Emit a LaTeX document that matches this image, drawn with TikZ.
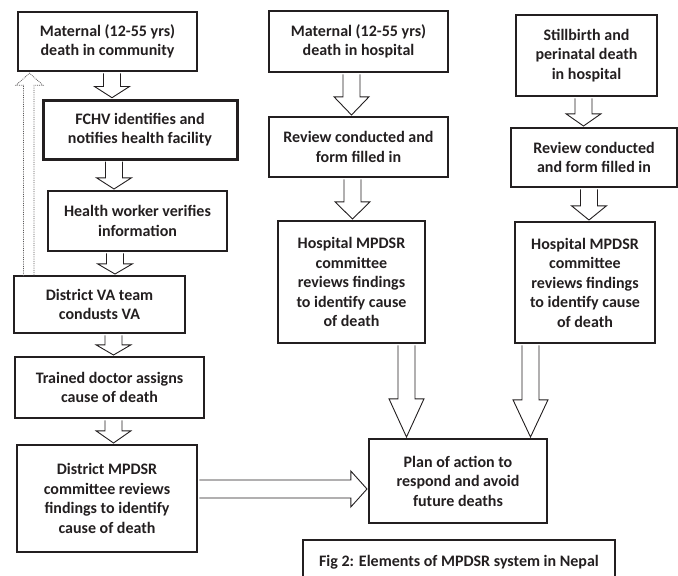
\documentclass[tikz,border=0pt]{standalone}
\usepackage{fontspec}
\setmainfont{Carlito}
\usetikzlibrary{calc}
\definecolor{ink}{HTML}{231F20}
% hollow block arrow pointing down: x, from node, to node, head length
\newcommand\fatdown[4]{%
\draw[fat] let \p1=(#2.south), \p2=(#3.north) in
 (#1pt-8.5pt,\y1-1.2pt) -- (#1pt-8.5pt,\y2+#4pt) -- (#1pt-17.5pt,\y2+#4pt) -- (#1pt,\y2+0.8pt)
 -- (#1pt+17.5pt,\y2+#4pt) -- (#1pt+8.5pt,\y2+#4pt) -- (#1pt+8.5pt,\y1-1.2pt);}
\begin{document}
\begin{tikzpicture}[x=1pt,y=-1pt,
  box/.style={draw=ink, line width=2.4pt, align=center, text=ink, inner sep=0pt,
    font=\bfseries\fontsize{16}{19.5}\selectfont},
  fat/.style={draw=ink, fill=white, line width=0.9pt, line join=miter},
  dotarrow/.style={draw=ink!75, line width=0.8pt, densely dotted}]
\useasboundingbox (0,0) rectangle (678,576);

% community deaths
\node[box, minimum width=179, minimum height=59] (matcom) at (107.5,41.5) {Maternal (12-55 yrs)\\death in community};
\node[box, minimum width=194, minimum height=59, line width=3pt] (fchv) at (140,129.5) {FCHV identifies and\\notifies health facility};
\node[box, minimum width=179, minimum height=60] (hworker) at (137.5,221) {Health worker verifies\\information};
\node[box, minimum width=171, minimum height=57] (vateam) at (99.5,304.5) {District VA team\\condusts VA};
\node[box, minimum width=189, minimum height=61] (doctor) at (109.5,387.5) {Trained doctor assigns\\cause of death};
\node[box, minimum width=180, minimum height=107] (distcom) at (107,498.5) {District MPDSR\\committee reviews\\findings to identify\\cause of death};

% hospital maternal deaths
\node[box, minimum width=179, minimum height=61] (mathosp) at (358.5,41.5) {Maternal (12-55 yrs)\\death in hospital};
\node[box, minimum width=179, minimum height=60] (review1) at (358.5,147) {Review conducted and\\form filled in};
\node[box, minimum width=147, minimum height=122] (hospcom1) at (351.5,282) {Hospital MPDSR\\committee\\reviews findings\\to identify cause\\of death};

% hospital stillbirths
\node[box, minimum width=141, minimum height=81] (stillb) at (586.5,55.5) {Stillbirth and\\perinatal death\\in hospital};
\node[box, minimum width=166, minimum height=59] (review2) at (594,157.5) {Review conducted\\and form filled in};
\node[box, minimum width=140, minimum height=121] (hospcom2) at (585,282.5) {Hospital MPDSR\\committee\\reviews findings\\to identify cause\\of death};

\node[box, minimum width=178, minimum height=84] (plan) at (458,481) {Plan of action to\\respond and avoid\\future deaths};
\node[box, minimum width=312, minimum height=44] (figcap) at (459,562) {Fig 2: Elements of MPDSR system in Nepal};

\fatdown{112}{matcom}{fchv}{12}
\fatdown{114}{fchv}{hworker}{12}
\fatdown{115}{hworker}{vateam}{11}
\fatdown{113.5}{vateam}{doctor}{11}
\fatdown{113.5}{doctor}{distcom}{13}
\fatdown{351.5}{mathosp}{review1}{19}
\fatdown{352.5}{review1}{hospcom1}{18}
\fatdown{583.5}{stillb}{review2}{13}
\fatdown{589}{review2}{hospcom2}{15}
\fatdown{406.5}{hospcom1}{plan}{39}
\fatdown{530.5}{hospcom2}{plan}{38}

\coordinate (hy) at (0,489);
\draw[fat] let \p1=(distcom.east), \p2=(plan.west), \p3=(hy) in
 (\x1+1.2pt,\y3+9pt) -- (\x2-17pt,\y3+9pt) -- (\x2-17pt,\y3+18pt) -- (\x2-0.8pt,\y3)
 -- (\x2-17pt,\y3-18pt) -- (\x2-17pt,\y3-9pt) -- (\x1+1.2pt,\y3-9pt);

% VA result goes back to the community
\draw[dotarrow] let \p1=(vateam.north), \p2=(matcom.south) in
 (23.5pt,\y1-1.2pt) -- (23.5pt,\y2-13pt) -- (16pt,\y2-13pt) -- (29.5pt,\y2-1pt)
 -- (43pt,\y2-13pt) -- (34pt,\y2-13pt) -- (34pt,\y1-1.2pt);
\end{tikzpicture}
\end{document}
